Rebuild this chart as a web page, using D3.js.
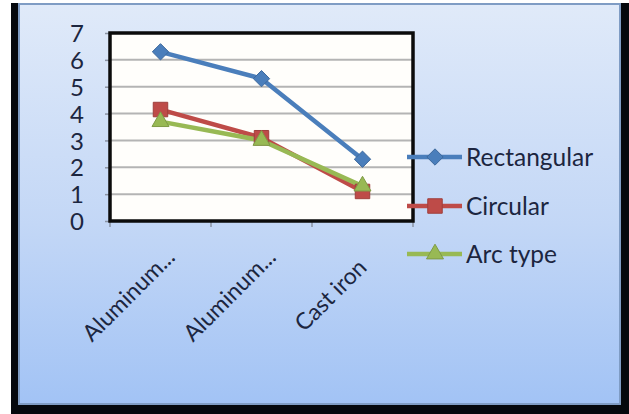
<!DOCTYPE html>
<html>
<head>
<meta charset="utf-8">
<script src="https://cdn.jsdelivr.net/npm/d3@7"></script>
<style>
  html, body { margin: 0; padding: 0; background: #ffffff; }
  svg { display: block; }
  text { font-family: Lato, "Open Sans", sans-serif; fill: #1c2640; }
</style>
</head>
<body>
<svg id="chart" width="629" height="414"></svg>
<script>
// Materials on the x axis
const categories = ["Aluminum...", "Aluminum...", "Cast iron"];
// Values for each slot shape
const rectangular = [6.3, 5.3, 2.3];
const circular = [4.15, 3.1, 1.1];
const arcType = [3.7, 3.0, 1.3];
const seriesNames = ["Rectangular", "Circular", "Arc type"];
const yTicks = [0, 1, 2, 3, 4, 5, 6, 7];

const series = [
  { name: seriesNames[0], values: rectangular, color: "#4a7ebb", marker: "diamond" },
  { name: seriesNames[1], values: circular, color: "#be4b48", marker: "square" },
  { name: seriesNames[2], values: arcType, color: "#98b954", marker: "triangle" }
];

const svg = d3.select("#chart");

// Frame: dark surround and gradient-filled chart area
const defs = svg.append("defs");
const grad = defs.append("linearGradient")
  .attr("id", "bg").attr("x1", 0).attr("y1", 0).attr("x2", 0).attr("y2", 1);
grad.append("stop").attr("offset", "0%").attr("stop-color", "#e0eaf9");
grad.append("stop").attr("offset", "55%").attr("stop-color", "#c3d7f6");
grad.append("stop").attr("offset", "100%").attr("stop-color", "#a2c3f5");

svg.append("rect").attr("x", 11).attr("y", 3).attr("width", 618).attr("height", 411).attr("fill", "#05080d");
svg.append("rect").attr("x", 19).attr("y", 4).attr("width", 601).attr("height", 400)
  .attr("fill", "url(#bg)").attr("stroke", "#7f9cc4").attr("stroke-width", 2);

// Plot area
const plot = { left: 110, right: 413, top: 33, bottom: 221 };

const x = d3.scaleBand().domain(d3.range(categories.length))
  .range([plot.left, plot.right]).paddingInner(0).paddingOuter(0);
const y = d3.scaleLinear().domain([0, 7]).range([plot.bottom, plot.top]);

svg.append("rect")
  .attr("x", plot.left).attr("y", plot.top)
  .attr("width", plot.right - plot.left).attr("height", plot.bottom - plot.top)
  .attr("fill", "#fffefb");

// Gridlines
svg.append("g")
  .selectAll("line")
  .data(yTicks.filter(t => t > 0 && t < 7))
  .join("line")
  .attr("x1", plot.left).attr("x2", plot.right)
  .attr("y1", d => y(d)).attr("y2", d => y(d))
  .attr("stroke", "#b4b4b4").attr("stroke-width", 2);

// Y axis
const yAxis = svg.append("g")
  .attr("transform", `translate(${plot.left},0)`)
  .call(d3.axisLeft(y).tickValues(yTicks).tickSize(5).tickPadding(21).tickFormat(d3.format("d")));
yAxis.select(".domain").remove();
yAxis.selectAll(".tick line").attr("stroke", "#8a93a3").attr("stroke-width", 1.5);
yAxis.selectAll(".tick text").attr("font-size", 24).attr("fill", "#1c2640").attr("dy", "0.36em");

// X axis tick marks at category boundaries
const boundaries = d3.range(categories.length + 1).map(i => plot.left + i * x.bandwidth());
svg.append("g").selectAll("line").data(boundaries).join("line")
  .attr("x1", d => d).attr("x2", d => d)
  .attr("y1", plot.bottom).attr("y2", plot.bottom + 6)
  .attr("stroke", "#8a93a3").attr("stroke-width", 1.5);

// Category labels, rotated
svg.append("g").selectAll("text").data(categories).join("text")
  .attr("text-anchor", "middle")
  .attr("font-size", 23)
  .attr("transform", (d, i) => {
    const cx = x(i) + x.bandwidth() / 2 - 32;
    return `translate(${cx},295) rotate(-45)`;
  })
  .attr("dy", "0.35em")
  .text(d => d);

// Plot border
svg.append("rect")
  .attr("x", plot.left).attr("y", plot.top)
  .attr("width", plot.right - plot.left).attr("height", plot.bottom - plot.top)
  .attr("fill", "none").attr("stroke", "#0b0b0b").attr("stroke-width", 3.5);

// Marker shapes
const markerPath = {
  diamond: d3.symbol().type(d3.symbolDiamond2).size(170)(),
  square: d3.symbol().type(d3.symbolSquare).size(210)(),
  triangle: d3.symbol().type(d3.symbolTriangle).size(125)()
};

const line = d3.line()
  .x((d, i) => x(i) + x.bandwidth() / 2)
  .y(d => y(d));

const g = svg.append("g");
series.forEach(s => {
  g.append("path")
    .attr("d", line(s.values))
    .attr("fill", "none")
    .attr("stroke", s.color)
    .attr("stroke-width", 4.5)
    .attr("stroke-linejoin", "round");
});
series.forEach(s => {
  g.append("g").selectAll("path").data(s.values).join("path")
    .attr("d", markerPath[s.marker])
    .attr("transform", (d, i) => `translate(${x(i) + x.bandwidth() / 2},${y(d)})`)
    .attr("fill", s.color)
    .attr("stroke", d3.color(s.color).darker(0.5))
    .attr("stroke-width", 1);
});

// Legend
const legendRows = [157, 206, 254];
const legend = svg.append("g");
series.forEach((s, i) => {
  const ly = legendRows[i];
  legend.append("line")
    .attr("x1", 407).attr("x2", 462).attr("y1", ly).attr("y2", ly)
    .attr("stroke", s.color).attr("stroke-width", 4.5);
  legend.append("path")
    .attr("d", markerPath[s.marker])
    .attr("transform", `translate(435,${ly})`)
    .attr("fill", s.color)
    .attr("stroke", d3.color(s.color).darker(0.5))
    .attr("stroke-width", 1);
  legend.append("text")
    .attr("x", 466).attr("y", ly).attr("dy", "0.35em")
    .attr("font-size", 24.5)
    .text(s.name);
});
</script>
</body>
</html>
